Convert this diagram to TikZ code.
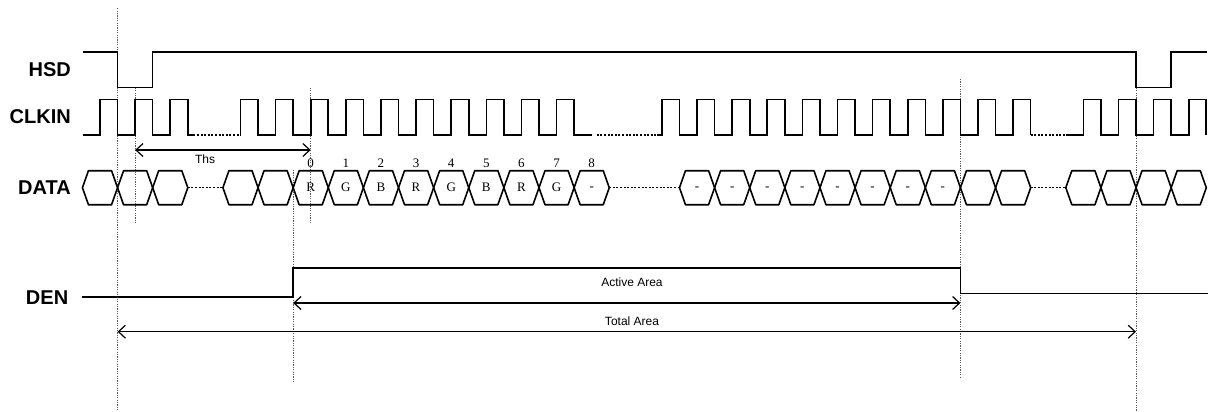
\documentclass[tikz,border=0pt]{standalone}
\usepackage{fontspec}
\setmainfont{Liberation Sans}
\newfontfamily\tms{Liberation Serif}
\usetikzlibrary{arrows.meta}
\begin{document}
\begin{tikzpicture}[x=1pt,y=-1pt,
  declare function={ex(\k)=100+17.56*\k;},
  sig/.style={line width=1.6pt, line join=miter},
  hexa/.style={line width=1.6pt, line join=round},
  guide/.style={line width=0.8pt, black!65, dash pattern=on 1.2pt off 1.2pt},
  gapdot/.style={line width=1.4pt, dash pattern=on 2pt off 1.6pt},
  dimarrow/.style={line width=1.2pt, {Straight Barb[length=7pt,width=13pt]}-{Straight Barb[length=7pt,width=13pt]}},
  lbl/.style={font=\fontsize{20}{24}\selectfont\bfseries, anchor=east, inner sep=0pt},
  dimtxt/.style={font=\fontsize{12}{14}\selectfont, inner sep=0pt},
  num/.style={font=\tms\fontsize{13}{15}\selectfont, inner sep=0pt},
]
\fill[white] (0,0) rectangle (1213,412);
\useasboundingbox (0,0) rectangle (1213,412);
\def\hi{99.3}\def\lo{135}
\def\dt{170.7}\def\db{204.7}\def\dm{187.7}\def\s{6}

% guide lines
\draw[guide] ({ex(1)},8.3) -- ({ex(1)},412);
\draw[guide] ({ex(2)},87.7) -- ({ex(2)},224);
\draw[guide] ({ex(12)},87.7) -- ({ex(12)},224);
\draw[guide] ({ex(11)},170) -- ({ex(11)},381.7);
\draw[guide] ({ex(49)},79) -- ({ex(49)},376.7);
\draw[guide] ({ex(59)},87.7) -- ({ex(59)},412);

% labels
\node[lbl] (hsd) at (71,69.8) {HSD};
\node[lbl] (clkin) at (71,116.3) {CLKIN};
\node[lbl] (data) at (71,187.5) {DATA};
\node[lbl] (den) at (68.4,297.8) {DEN};

% HSD
\draw[sig] (82.7,52.3) -- ({ex(1)},52.3) -- ({ex(1)},87.7) -- ({ex(3)},87.7) -- ({ex(3)},52.3)
  -- ({ex(59)},52.3) -- ({ex(59)},87.7) -- ({ex(61)},87.7) -- ({ex(61)},52.3) -- (1206.7,52.3);

% CLKIN
\draw[sig] (82.7,\lo) foreach \k in {0,2,4}{ -- ({ex(\k)},\lo) -- ({ex(\k)},\hi) -- ({ex(\k+1)},\hi) -- ({ex(\k+1)},\lo)} -- (193.3,\lo);
\draw[gapdot] (193.3,\lo) -- ({ex(8)},\lo);
\draw[sig] ({ex(8)},\lo) foreach \k in {8,10,...,26}{ -- ({ex(\k)},\lo) -- ({ex(\k)},\hi) -- ({ex(\k+1)},\hi) -- ({ex(\k+1)},\lo)} -- (591.7,\lo);
\draw[gapdot] (596.7,\lo) -- (656.7,\lo);
\draw[sig] (656.7,\lo) foreach \k in {32,34,...,52}{ -- ({ex(\k)},\lo) -- ({ex(\k)},\hi) -- ({ex(\k+1)},\hi) -- ({ex(\k+1)},\lo)};
\draw[gapdot] ({ex(53)},\lo) -- (1065.7,\lo);
\draw[sig] (1065.7,\lo) foreach \k in {56,58,60,62}{ -- ({ex(\k)},\lo) -- ({ex(\k)},\hi) -- ({ex(\k+1)},\hi) -- ({ex(\k+1)},\lo)};

% DATA
\foreach \k in {-1,1,3,7,9,...,27,33,35,...,51,55,57,59,61}
  \draw[hexa] ({ex(\k)},\dm) -- ({ex(\k)+\s},\dt) -- ({ex(\k+2)-\s},\dt) -- ({ex(\k+2)},\dm)
    -- ({ex(\k+2)-\s},\db) -- ({ex(\k)+\s},\db) -- cycle;
\draw[gapdot] ({ex(5)},\dm) -- ({ex(7)},\dm);
\draw[gapdot] ({ex(29)},\dm) -- ({ex(33)},\dm);
\draw[gapdot] ({ex(53)},\dm) -- ({ex(55)},\dm);

\foreach \k/\t/\d in {11/R/0,13/G/1,15/B/2,17/R/3,19/G/4,21/B/5,23/R/6,25/G/7}{
  \node[num] (val\d) at ({ex(\k+1)},\dm) {\t};
  \node[num] (idx\d) at ({ex(\k+1)},163) {\d};
}
\node[num] (val8) at ({ex(28)},\dm+1.3) {-};
\node[num] (idx8) at ({ex(28)},163) {8};
\foreach \k in {33,35,...,47}
  \node[num] (dash\k) at ({ex(\k+1)},\dm+1.3) {-};

% DEN
\draw[sig] (82,297) -- ({ex(11)},297) -- ({ex(11)},267.7) -- ({ex(49)},267.7) -- ({ex(49)},293.5) -- (1208,293.5);

% dimension arrows
\coordinate (thsA) at ({ex(2)},150);
\coordinate (thsB) at ({ex(12)},150);
\draw[dimarrow] (thsA) -- (thsB);
\node[dimtxt] (ths) at (205,159.3) {Ths};

\coordinate (actA) at ({ex(11)},303);
\coordinate (actB) at ({ex(49)},303);
\draw[dimarrow] (actA) -- (actB);
\node[dimtxt] (act) at (632,282.5) {Active Area};

\coordinate (totA) at ({ex(1)},331.7);
\coordinate (totB) at ({ex(59)},331.7);
\draw[dimarrow] (totA) -- (totB);
\node[dimtxt] (tot) at (632,321) {Total Area};
\end{tikzpicture}
\end{document}
